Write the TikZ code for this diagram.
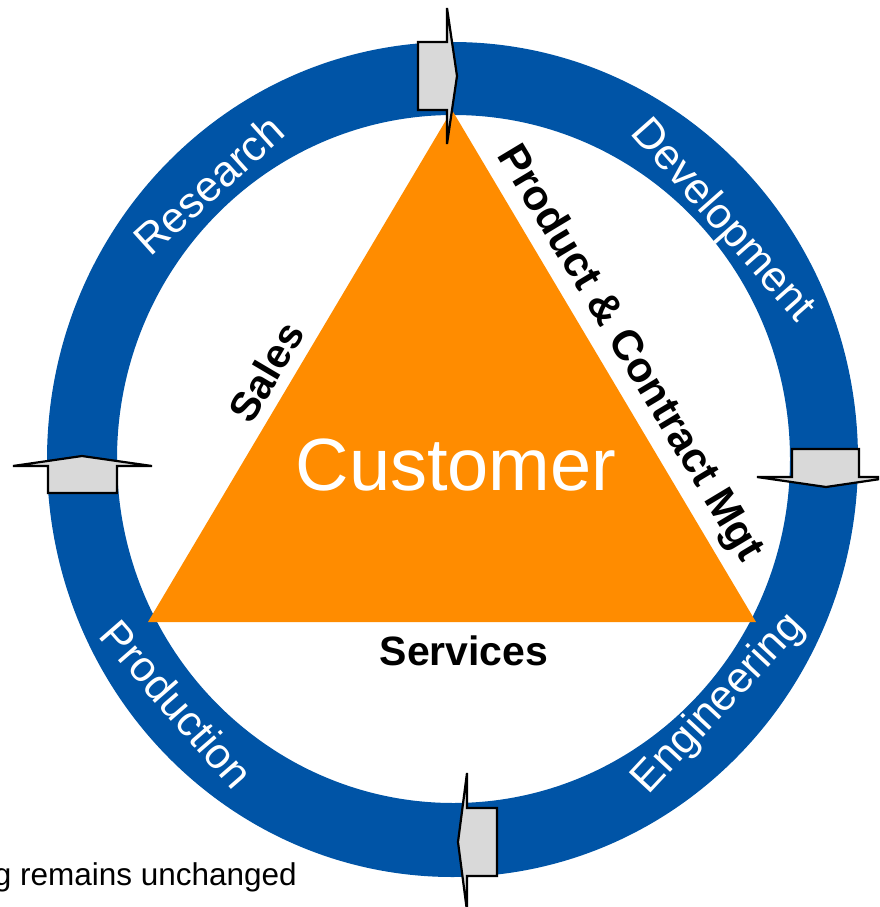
\documentclass[tikz,border=0pt]{standalone}
\usepackage{fontspec}
\setmainfont{Liberation Sans}
\begin{document}
\begin{tikzpicture}[x=1pt,y=-1pt]
\definecolor{ringblue}{RGB}{0,84,166}
\definecolor{custorange}{RGB}{255,140,0}
\definecolor{arrowgray}{RGB}{217,217,217}
\tikzset{
 ringlabel/.style={text=white, font=\fontsize{43}{43}\selectfont, inner sep=0pt},
 sidelabel/.style={text=black, font=\bfseries\fontsize{41}{41}\selectfont, inner sep=0pt},
 flowarrow/.style={fill=arrowgray, draw=black, line width=2.2pt, line join=miter},
}
\useasboundingbox (0,0) rectangle (879,907);
\begin{scope}
\clip (0,0) rectangle (879,907);
% ring
\fill[ringblue,even odd rule] (452.5,459.5) ellipse [x radius=405.5, y radius=417.5]
  (453.5,459) ellipse [x radius=336.5, y radius=344];
% triangle
\coordinate (apex) at (452,110);
\coordinate (bl) at (148,622);
\coordinate (br) at (756,622);
\fill[custorange] (apex) -- (bl) -- (br) -- cycle;
% arrows
\draw[flowarrow] (418,42) -- (447,42) -- (447,8) -- (457,76) -- (447,144) -- (447,110) -- (418,110) -- cycle;
\draw[flowarrow] (792,449) -- (859,449) -- (859,477) -- (894,477) -- (826,487) -- (757,477) -- (792,477) -- cycle;
\draw[flowarrow] (48,493) -- (48,466) -- (13,466) -- (82,456) -- (152,466) -- (117,466) -- (117,493) -- cycle;
\draw[flowarrow] (497,808) -- (497,876) -- (467,876) -- (467,911) -- (458,842) -- (467,773) -- (467,808) -- cycle;
% labels
\node[ringlabel, rotate=42] (research) at (209,185) {Research};
\node[ringlabel, rotate=-48.5] (development) at (722,221) {Development};
\node[ringlabel, rotate=-49] (production) at (177,704) {Production};
\node[ringlabel, rotate=47] (engineering) at (719,704) {Engineering};
\node[sidelabel, rotate=59.4] (sales) at (266,372) {Sales};
\node[sidelabel, rotate=-59, font=\bfseries\fontsize{42.5}{42.5}\selectfont] (pcm) at (629,354) {Product \& Contract Mgt};
\node[text=white, font=\fontsize{74}{74}\selectfont, inner sep=0pt, anchor=base] (customer) at (456,490) {Customer};
\node[sidelabel, anchor=base] (services) at (464,665) {Services};
\node[font=\fontsize{31.5}{31.5}\selectfont, anchor=base east, inner sep=0pt] (note) at (297,885) {g remains unchanged};
\end{scope}
\end{tikzpicture}
\end{document}
